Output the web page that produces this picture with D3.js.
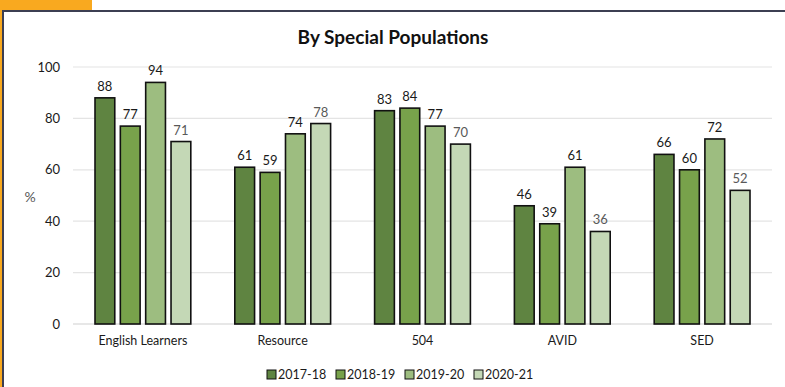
<!DOCTYPE html>
<html>
<head>
<meta charset="utf-8">
<script src="https://cdn.jsdelivr.net/npm/d3@7"></script>
<style>
  html, body { margin: 0; padding: 0; background: #fff; }
  svg { display: block; font-family: Lato, "Open Sans", sans-serif; }
</style>
</head>
<body>
<svg id="chart" width="785" height="387"></svg>
<script>
// Chart data
const categories = ["English Learners", "Resource", "504", "AVID", "SED"];
const seriesNames = ["2017-18", "2018-19", "2019-20", "2020-21"];
const values2017 = [88, 61, 83, 46, 66];
const values2018 = [77, 59, 84, 39, 60];
const values2019 = [94, 74, 77, 61, 72];
const values2020 = [71, 78, 70, 36, 52];
const yTicks = [0, 20, 40, 60, 80, 100];

const seriesValues = [values2017, values2018, values2019, values2020];
const colors = ["#5f8441", "#78a24b", "#9dbd80", "#c4d8b6"];
const labelColors = ["#1a1a1a", "#1a1a1a", "#1a1a1a", "#595959"];

const svg = d3.select("#chart");

// Frame: orange tab, orange left edge, dark top/left rule
svg.append("rect").attr("x", 0).attr("y", 0).attr("width", 92).attr("height", 10).attr("fill", "#f9a91f");
svg.append("rect").attr("x", 0).attr("y", 0).attr("width", 2).attr("height", 387).attr("fill", "#f9a91f");
svg.append("rect").attr("x", 2).attr("y", 10).attr("width", 783).attr("height", 2).attr("fill", "#3c3f52");
svg.append("rect").attr("x", 2).attr("y", 10).attr("width", 2).attr("height", 377).attr("fill", "#3c3f52");

const plot = { left: 73, right: 772, top: 67, bottom: 324 };

const x0 = d3.scaleBand().domain(categories).range([plot.left, plot.right]).paddingInner(0).paddingOuter(0);
const x1 = d3.scaleBand().domain(seriesNames).range([22, x0.bandwidth() - 22]).paddingInner(0.22);
const y = d3.scaleLinear().domain([0, 100]).range([plot.bottom, plot.top]);

// Gridlines
svg.append("g").selectAll("line").data(yTicks).join("line")
  .attr("x1", plot.left).attr("x2", plot.right)
  .attr("y1", d => y(d)).attr("y2", d => y(d))
  .attr("stroke", d => d === 0 ? "#d0d0d0" : "#e4e4e4").attr("stroke-width", 1.2);

// Y axis tick labels
const yAxis = d3.axisLeft(y).tickValues(yTicks).tickSize(0).tickPadding(0);
const yg = svg.append("g").attr("transform", `translate(60,0)`).call(yAxis);
yg.select(".domain").remove();
yg.selectAll("text").attr("font-size", 13).attr("fill", "#1a1a1a").attr("font-family", "Lato, sans-serif");

// Y axis title
svg.append("text").attr("x", 30).attr("y", 202).attr("text-anchor", "middle")
  .attr("font-size", 14).attr("fill", "#595959").text("%");

// X axis category labels
const xAxis = d3.axisBottom(x0).tickSize(0).tickPadding(12);
const xg = svg.append("g").attr("transform", `translate(0,${plot.bottom})`).call(xAxis);
xg.select(".domain").remove();
xg.selectAll("text").attr("font-size", 12.5).attr("fill", "#1a1a1a").attr("font-family", "Lato, sans-serif");

// Title
svg.append("text").attr("x", 393).attr("y", 44).attr("text-anchor", "middle")
  .attr("font-size", 19).attr("font-weight", "bold").attr("fill", "#111").text("By Special Populations");

// Bars
const groups = svg.append("g").selectAll("g").data(categories).join("g")
  .attr("transform", d => `translate(${x0(d)},0)`);

groups.each(function(cat, ci) {
  const g = d3.select(this);
  seriesNames.forEach((s, si) => {
    const v = seriesValues[si][ci];
    g.append("rect")
      .attr("x", x1(s)).attr("width", x1.bandwidth())
      .attr("y", y(v)).attr("height", y(0) - y(v))
      .attr("fill", colors[si]).attr("stroke", "#111").attr("stroke-width", 1.6);
    g.append("text")
      .attr("x", x1(s) + x1.bandwidth() / 2).attr("y", y(v) - 7)
      .attr("text-anchor", "middle").attr("font-size", 13)
      .attr("fill", labelColors[si]).text(v);
  });
});

// Legend
const legend = svg.append("g").attr("transform", "translate(267,379)");
seriesNames.forEach((s, si) => {
  const item = legend.append("g").attr("transform", `translate(${si * 69},0)`);
  item.append("rect").attr("x", 0).attr("y", -9).attr("width", 9).attr("height", 9)
    .attr("fill", colors[si]).attr("stroke", "#111").attr("stroke-width", 1);
  item.append("text").attr("x", 11).attr("y", 0).attr("font-size", 12.5)
    .attr("fill", "#1a1a1a").text(s);
});
</script>
</body>
</html>
